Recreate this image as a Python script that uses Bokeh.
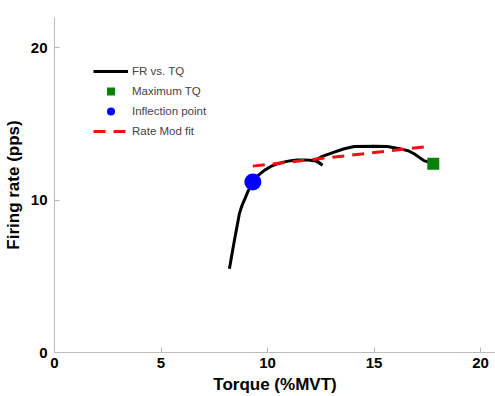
from bokeh.plotting import figure
from bokeh.models import FixedTicker, Range1d, Legend, LegendItem
from bokeh.embed import file_html
from bokeh.resources import INLINE

# Data
torque = [8.21, 8.33, 8.45, 8.57, 8.68, 8.8, 8.91, 9.07, 9.31, 9.55, 9.85, 10.15, 10.48,
          10.8, 11.1, 11.4, 11.72, 12.0, 12.27, 12.58, 12.27, 12.6, 13.13, 13.6, 14.07,
          15.0, 15.63, 16.25, 16.6, 16.88, 17.34, 17.78]
firing_rate = [5.5, 6.45, 7.4, 8.3, 9.13, 9.65, 10.0, 10.55, 11.2, 11.62, 11.96, 12.22, 12.4,
               12.52, 12.6, 12.64, 12.65, 12.63, 12.57, 12.3, 12.65, 12.9, 13.16, 13.38, 13.53,
               13.55, 13.53, 13.37, 13.25, 13.05, 12.6, 12.4]
max_tq_x = [17.78]
max_tq_y = [12.4]
inflection_x = [9.31]
inflection_y = [11.2]
fit_x = [9.31, 17.55]
fit_y = [12.24, 13.53]
x_ticks = [0, 5, 10, 15, 20]
y_ticks = [0, 10, 20]

p = figure(width=495, height=396, output_backend="svg", toolbar_location=None,
           x_range=Range1d(0, 20.7), y_range=Range1d(0, 22),
           min_border_left=53, min_border_right=0, min_border_top=17, min_border_bottom=43)
p.outline_line_color = None
p.xgrid.visible = False
p.ygrid.visible = False

r_line = p.line(torque, firing_rate, line_color="black", line_width=3)
r_sq = p.scatter(max_tq_x, max_tq_y, marker="square", size=12, fill_color="#0a7f0a", line_color=None)
r_circ = p.scatter(inflection_x, inflection_y, marker="circle", size=17, fill_color="#0000ff", line_color=None)
r_fit = p.line(fit_x, fit_y, line_color="#ee1111", line_width=3, line_dash="12 8")

for ax in (p.xaxis[0], p.yaxis[0]):
    ax.axis_line_color = "#bbbbbb"
    ax.major_tick_line_color = "#bbbbbb"
    ax.major_tick_in = 5
    ax.major_tick_out = 0
    ax.minor_tick_line_color = None
    ax.major_label_text_font = "Liberation Sans"
    ax.major_label_text_font_style = "bold"
    ax.major_label_text_font_size = "15px"
    ax.major_label_text_color = "black"
    ax.axis_label_text_font = "Liberation Sans"
    ax.axis_label_text_font_style = "bold"
    ax.axis_label_text_font_size = "17px"
    ax.axis_label_text_color = "black"

p.xaxis.ticker = FixedTicker(ticks=x_ticks)
p.yaxis.ticker = FixedTicker(ticks=y_ticks)
p.xaxis.axis_label = "Torque (%MVT)"
p.yaxis.axis_label = "Firing rate (pps)"
p.xaxis.major_label_standoff = 5
p.xaxis.axis_label_standoff = 4
p.yaxis.major_label_standoff = 7
p.yaxis.axis_label_standoff = 5

legend = Legend(items=[
    LegendItem(label="FR vs. TQ", renderers=[r_line]),
    LegendItem(label="Maximum TQ", renderers=[r_sq]),
    LegendItem(label="Inflection point", renderers=[r_circ]),
    LegendItem(label="Rate Mod fit", renderers=[r_fit]),
], location=(39, 211))
legend.border_line_color = None
legend.background_fill_alpha = 0
legend.padding = 0
legend.margin = 0
legend.spacing = 0
legend.glyph_width = 35
legend.glyph_height = 20
legend.label_standoff = 4
legend.label_text_font = "Liberation Sans"
legend.label_text_font_size = "11.5px"
legend.label_height = 20
p.add_layout(legend, "center")

open("out.html", "w").write(file_html(p, INLINE))
